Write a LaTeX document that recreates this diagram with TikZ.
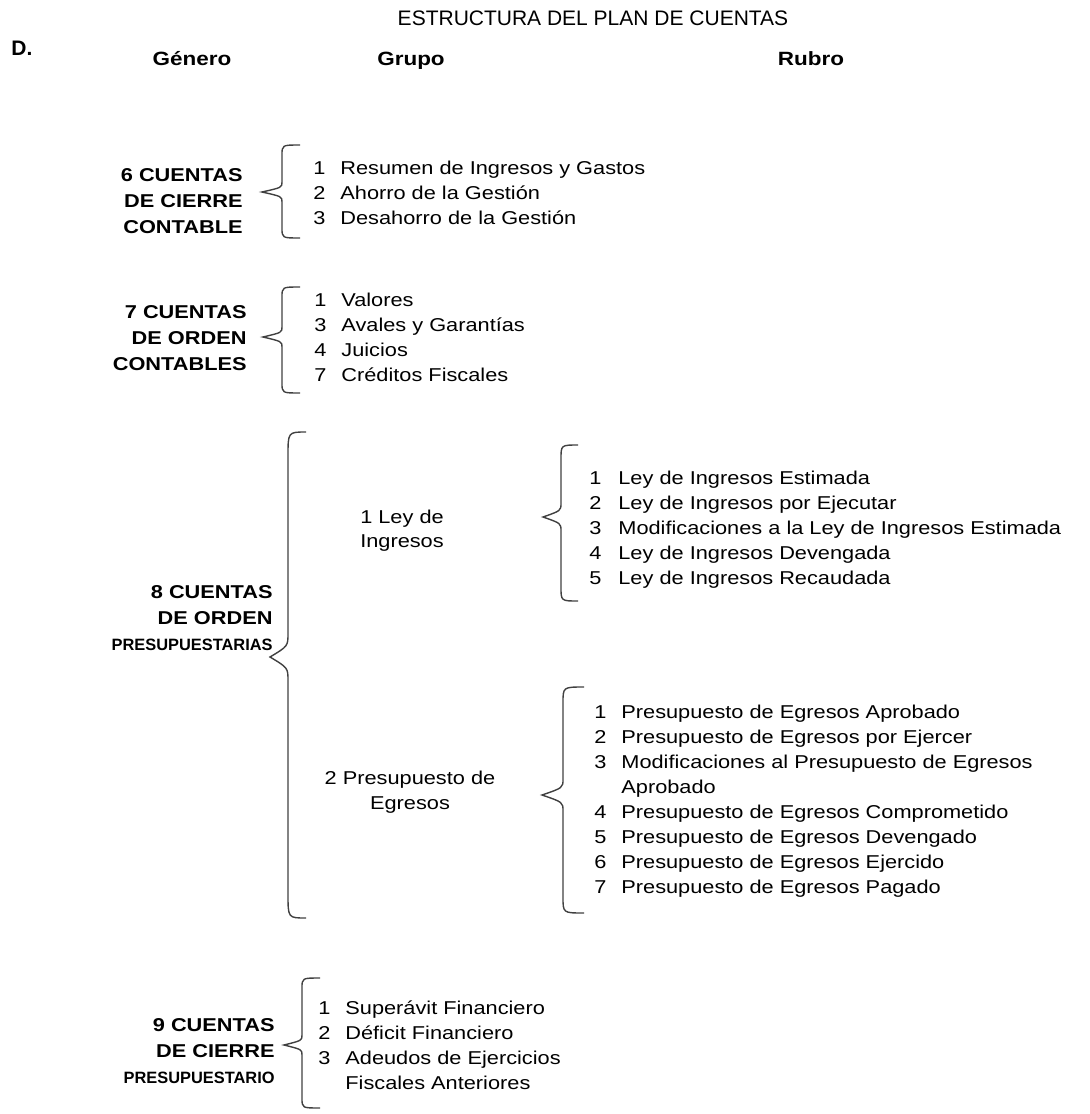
\documentclass[tikz,border=0pt]{standalone}
\usepackage{fontspec}
\setmainfont[FakeStretch=1.17]{Liberation Sans}
\newfontfamily\angosta{Liberation Sans}
\usetikzlibrary{positioning}

% brace: tail x, line x, tip x, top y, tip y, bottom y, curl
\newcommand{\llave}[7]{%
  \draw[llave] (#1,#4) .. controls (#2,#4) .. (#2,{#4+#7})
    -- (#2,{#5-#7}) .. controls (#2,{#5-0.45*#7}) .. (#3,#5)
    .. controls (#2,{#5+0.45*#7}) .. (#2,{#5+#7})
    -- (#2,{#6-#7}) .. controls (#2,#6) .. (#1,#6);}

\begin{document}
\begin{tikzpicture}[x=0.5pt, y=-0.5pt,
    llave/.style={draw=black!75, line width=0.7pt},
    titulo/.style={font=\angosta\fontsize{10.5}{12}\selectfont, anchor=base, inner sep=0pt},
    letra/.style={font=\angosta\bfseries\fontsize{10.5}{12}\selectfont, anchor=base west, inner sep=0pt},
    encabezado/.style={font=\bfseries\fontsize{9.6}{12}\selectfont, anchor=base, inner sep=0pt},
    genero/.style={font=\bfseries\fontsize{9.3}{13}\selectfont, anchor=base east, inner sep=0pt},
    grupo/.style={font=\fontsize{9.3}{12}\selectfont, anchor=base, inner sep=0pt},
    rubro/.style={font=\fontsize{9.3}{12.5}\selectfont, anchor=base west, inner sep=0pt}]
    \useasboundingbox (0,0) rectangle (1090,1114);

    % Headings
    \node[titulo] (titulo) at (593,25.5) {ESTRUCTURA DEL PLAN DE CUENTAS};
    \node[letra] (letra) at (11,55.5) {D.};
    \node[encabezado] (genero) at (192,65) {Género};
    \node[encabezado] (grupo) at (411,65) {Grupo};
    \node[encabezado] (rubro) at (811,65) {Rubro};

    % 6 Cuentas de cierre contable
    \node[genero] (g6) at (243,181.6) {\begin{tabular}[t]{@{}r@{}}6 CUENTAS\\DE CIERRE\\CONTABLE\end{tabular}};
    \llave{300}{282}{262}{145}{192}{238}{10}
    \node[rubro] (r6) at (313,174.6) {\begin{tabular}[t]{@{}p{13.5pt}@{}l@{}}
        1 & Resumen de Ingresos y Gastos\\
        2 & Ahorro de la Gestión\\
        3 & Desahorro de la Gestión\end{tabular}};

    % 7 Cuentas de orden contables
    \node[genero] (g7) at (247,318.6) {\begin{tabular}[t]{@{}r@{}}7 CUENTAS\\DE ORDEN\\CONTABLES\end{tabular}};
    \llave{300}{282}{263}{287}{337}{393}{10}
    \node[rubro] (r7) at (314,306.6) {\begin{tabular}[t]{@{}p{13.5pt}@{}l@{}}
        1 & Valores\\
        3 & Avales y Garantías\\
        4 & Juicios\\
        7 & Créditos Fiscales\end{tabular}};

    % 8 Cuentas de orden presupuestarias
    \node[genero] (g8) at (273,598.6) {\begin{tabular}[t]{@{}r@{}}8 CUENTAS\\DE ORDEN\\{\angosta\fontsize{8.2}{13}\selectfont PRESUPUESTARIAS}\end{tabular}};
    \llave{306}{288}{270}{432}{657}{918}{24}

    \node[grupo] (ley) at (402,523.6) {\begin{tabular}[t]{@{}c@{}}1 Ley de\\Ingresos\end{tabular}};
    \llave{578}{561}{543}{445}{517}{601}{14}
    \node[rubro] (r81) at (589,484.6) {\begin{tabular}[t]{@{}p{14.5pt}@{}l@{}}
        1 & Ley de Ingresos Estimada\\
        2 & Ley de Ingresos por Ejecutar\\
        3 & Modificaciones a la Ley de Ingresos Estimada\\
        4 & Ley de Ingresos Devengada\\
        5 & Ley de Ingresos Recaudada\end{tabular}};

    \node[grupo, font=\fontsize{9.3}{12.5}\selectfont] (egr) at (410,784.6) {\begin{tabular}[t]{@{}c@{}}2 Presupuesto de\\Egresos\end{tabular}};
    \llave{584}{563}{542}{687}{795}{913}{16}
    \node[rubro] (r82) at (594,718.6) {\begin{tabular}[t]{@{}p{13.5pt}@{}l@{}}
        1 & Presupuesto de Egresos Aprobado\\
        2 & Presupuesto de Egresos por Ejercer\\
        3 & Modificaciones al Presupuesto de Egresos\\
          & Aprobado\\
        4 & Presupuesto de Egresos Comprometido\\
        5 & Presupuesto de Egresos Devengado\\
        6 & Presupuesto de Egresos Ejercido\\
        7 & Presupuesto de Egresos Pagado\end{tabular}};

    % 9 Cuentas de cierre presupuestario
    \node[genero] (g9) at (275,1031.6) {\begin{tabular}[t]{@{}r@{}}9 CUENTAS\\DE CIERRE\\{\angosta\fontsize{8.2}{13}\selectfont PRESUPUESTARIO}\end{tabular}};
    \llave{320}{302}{284}{978}{1045}{1108}{10}
    \node[rubro] (r9) at (318,1014.6) {\begin{tabular}[t]{@{}p{13.5pt}@{}l@{}}
        1 & Superávit Financiero\\
        2 & Déficit Financiero\\
        3 & Adeudos de Ejercicios\\
          & Fiscales Anteriores\end{tabular}};
\end{tikzpicture}
\end{document}
